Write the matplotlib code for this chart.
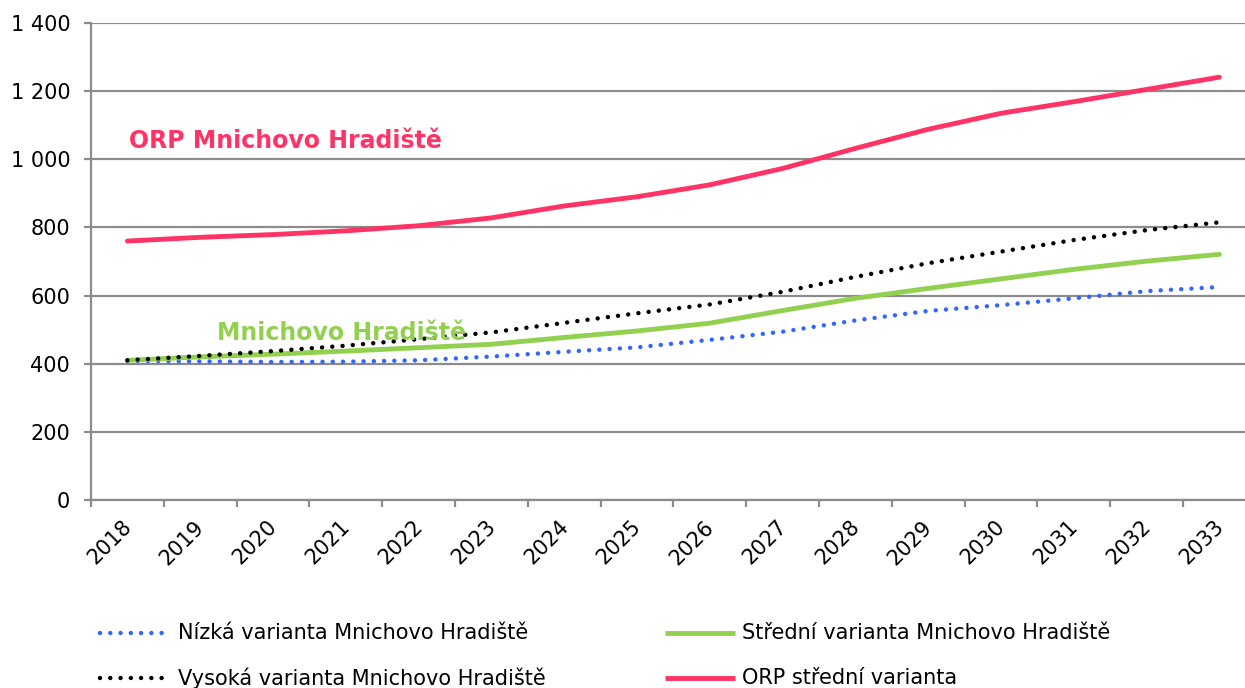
import matplotlib
matplotlib.use("Agg")
import matplotlib.pyplot as plt
from matplotlib.ticker import FuncFormatter, FixedLocator
from matplotlib.lines import Line2D
import matplotlib.transforms as mtransforms
import numpy as np

years = ["2018", "2019", "2020", "2021", "2022", "2023", "2024", "2025",
         "2026", "2027", "2028", "2029", "2030", "2031", "2032", "2033"]
nizka = [408, 407, 405, 406, 410, 421, 435, 448, 470, 494, 527, 555, 572, 592, 613, 625]
stredni = [410, 420, 428, 437, 447, 457, 477, 496, 519, 556, 592, 621, 649, 677, 701, 721]
vysoka = [410, 423, 437, 453, 472, 492, 520, 548, 574, 611, 655, 695, 729, 763, 792, 815]
orp = [760, 771, 779, 790, 805, 828, 863, 890, 925, 973, 1032, 1088, 1135, 1169, 1205, 1241]

labels = ["Nízká varianta Mnichovo Hradiště", "Střední varianta Mnichovo Hradiště",
          "Vysoká varianta Mnichovo Hradiště", "ORP střední varianta"]

plt.rcParams['font.family'] = ['DejaVu Sans']

W, H = 1245, 688
fig = plt.figure(figsize=(W / 100, H / 100), dpi=100)
left_px, right_px, top_px, bot_px = 91, 1245, 23, 500
ax = fig.add_axes([left_px / W, 1 - bot_px / H, (right_px - left_px) / W, (bot_px - top_px) / H])

# pixel transform (origin top-left) for annotations / legend
pix = mtransforms.Affine2D().scale(1, -1).translate(0, H)

step = 72.8
x = np.arange(len(years))
ax.set_xlim(-0.5, -0.5 + (right_px - left_px) / step)
ax.set_ylim(0, 1400)

grid_c = "#8c8c8c"
ax.set_yticks(range(0, 1401, 200))
ax.yaxis.set_major_formatter(FuncFormatter(lambda v, p: f"{int(v):,}".replace(",", " ")))
ax.grid(axis="y", color=grid_c, linewidth=1.6, zorder=0)
ax.set_axisbelow(True)

for s in ["top", "right"]:
    ax.spines[s].set_visible(False)
for s in ["left", "bottom"]:
    ax.spines[s].set_color(grid_c)
    ax.spines[s].set_linewidth(1.6)

ax.tick_params(axis="y", length=5, width=1.6, color=grid_c, pad=10, labelsize=15, labelcolor="black")
ax.set_xticks(x)
ax.set_xticklabels(years, rotation=45, ha="right", rotation_mode="anchor", fontsize=15)
ax.tick_params(axis="x", which="major", length=0, pad=12)
ax.xaxis.set_minor_locator(FixedLocator(np.arange(-0.5, len(years) - 0.4, 1)))
ax.tick_params(axis="x", which="minor", length=5, width=1.6, color=grid_c)
offset = mtransforms.ScaledTranslation(-6 / 100, 0, fig.dpi_scale_trans)
for lab in ax.get_xticklabels():
    lab.set_transform(lab.get_transform() + offset)

blue = "#3366FF"
green = "#92D050"
red = "#FF3366"
dot = (0, (0.01, 2.3))
lw_dot = 3.2
lw_solid = 3.5

ax.plot(x, nizka, color=blue, lw=lw_dot, linestyle=dot, dash_capstyle="round", zorder=3)
ax.plot(x, stredni, color=green, lw=lw_solid, solid_capstyle="round", zorder=3)
ax.plot(x, vysoka, color="black", lw=lw_dot, linestyle=dot, dash_capstyle="round", zorder=4)
ax.plot(x, orp, color=red, lw=lw_solid, solid_capstyle="round", zorder=3)

fig.text(129, 141, "ORP Mnichovo Hradiště", transform=pix, fontsize=17, fontweight="bold",
         color=red, va="center", ha="left")
fig.text(217, 333, "Mnichovo Hradiště", transform=pix, fontsize=17, fontweight="bold",
         color=green, va="center", ha="left")

# legend drawn manually (2 columns)
legend_items = [
    (labels[0], blue, dot, lw_dot, 100, 162, 178, 633),
    (labels[1], green, "-", lw_solid, 665, 735, 742, 633),
    (labels[2], "black", dot, lw_dot, 100, 162, 178, 678),
    (labels[3], red, "-", lw_solid, 665, 735, 742, 678),
]
for text, col, ls, lw, x0, x1, tx, ty in legend_items:
    ln = Line2D([x0, x1], [ty, ty], transform=pix, color=col, linestyle=ls, lw=lw,
                dash_capstyle="round", solid_capstyle="butt")
    fig.add_artist(ln)
    fig.text(tx, ty, text, transform=pix, fontsize=15, va="center", ha="left", color="black")

fig.savefig("out.png", dpi=100)
